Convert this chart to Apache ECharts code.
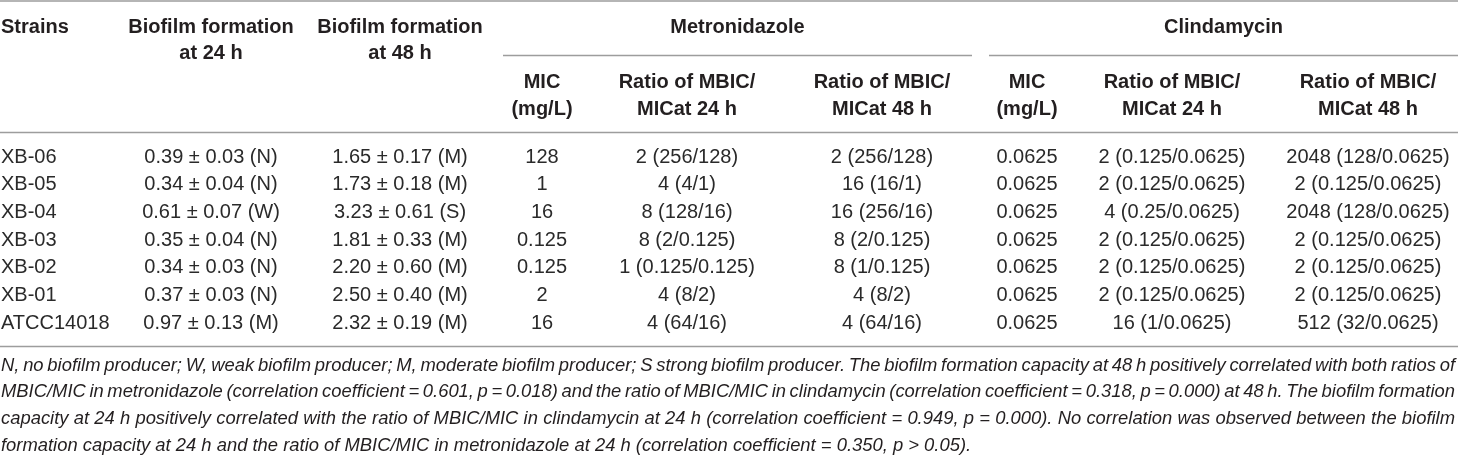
<!DOCTYPE html>
<html>
<head>
<meta charset="utf-8">
<script src="https://cdn.jsdelivr.net/npm/echarts@6/dist/echarts.min.js"></script>
<style>
html,body{margin:0;padding:0;background:#ffffff;}
#chart{width:1460px;height:455px;}
</style>
</head>
<body>
<div id="chart"></div>
<script>
// ---------- data ----------
const strains = ['XB-06', 'XB-05', 'XB-04', 'XB-03', 'XB-02', 'XB-01', 'ATCC14018'];
const biofilm24h = ['0.39 ± 0.03 (N)', '0.34 ± 0.04 (N)', '0.61 ± 0.07 (W)', '0.35 ± 0.04 (N)', '0.34 ± 0.03 (N)', '0.37 ± 0.03 (N)', '0.97 ± 0.13 (M)'];
const biofilm48h = ['1.65 ± 0.17 (M)', '1.73 ± 0.18 (M)', '3.23 ± 0.61 (S)', '1.81 ± 0.33 (M)', '2.20 ± 0.60 (M)', '2.50 ± 0.40 (M)', '2.32 ± 0.19 (M)'];
const metroMIC = ['128', '1', '16', '0.125', '0.125', '2', '16'];
const metroRatio24 = ['2 (256/128)', '4 (4/1)', '8 (128/16)', '8 (2/0.125)', '1 (0.125/0.125)', '4 (8/2)', '4 (64/16)'];
const metroRatio48 = ['2 (256/128)', '16 (16/1)', '16 (256/16)', '8 (2/0.125)', '8 (1/0.125)', '4 (8/2)', '4 (64/16)'];
const clindaMIC = ['0.0625', '0.0625', '0.0625', '0.0625', '0.0625', '0.0625', '0.0625'];
const clindaRatio24 = ['2 (0.125/0.0625)', '2 (0.125/0.0625)', '4 (0.25/0.0625)', '2 (0.125/0.0625)', '2 (0.125/0.0625)', '2 (0.125/0.0625)', '16 (1/0.0625)'];
const clindaRatio48 = ['2048 (128/0.0625)', '2 (0.125/0.0625)', '2048 (128/0.0625)', '2 (0.125/0.0625)', '2 (0.125/0.0625)', '2 (0.125/0.0625)', '512 (32/0.0625)'];

const groupHeaders = ['Metronidazole', 'Clindamycin'];
const columnHeaders = [
  ['Strains'],
  ['Biofilm formation', 'at 24 h'],
  ['Biofilm formation', 'at 48 h'],
  ['MIC', '(mg/L)'],
  ['Ratio of MBIC/', 'MICat 24 h'],
  ['Ratio of MBIC/', 'MICat 48 h'],
  ['MIC', '(mg/L)'],
  ['Ratio of MBIC/', 'MICat 24 h'],
  ['Ratio of MBIC/', 'MICat 48 h']
];
const footnoteLines = [
  'N, no biofilm producer; W, weak biofilm producer; M, moderate biofilm producer; S strong biofilm producer. The biofilm formation capacity at 48 h positively correlated with both ratios of',
  'MBIC/MIC in metronidazole (correlation coefficient = 0.601, p = 0.018) and the ratio of MBIC/MIC in clindamycin (correlation coefficient = 0.318, p = 0.000) at 48 h. The biofilm formation',
  'capacity at 24 h positively correlated with the ratio of MBIC/MIC in clindamycin at 24 h (correlation coefficient = 0.949, p = 0.000). No correlation was observed between the biofilm',
  'formation capacity at 24 h and the ratio of MBIC/MIC in metronidazole at 24 h (correlation coefficient = 0.350, p > 0.05).'
];

// ---------- layout (positions & styles) ----------
const W = 1460;
const FAMILY = '"Liberation Sans", Arial, Helvetica, sans-serif';
const TEXT_COLOR = '#231f20';
const RULE_COLOR = '#9d9d9d';
const colX = [1, 211, 400, 542, 687, 882, 1027, 1172, 1368];
const colAlign = ['left', 'center', 'center', 'center', 'center', 'center', 'center', 'center', 'center'];
const tableRight = 1458;
const groupSpans = [[503, 972], [989, 1458]];
const headerTopY = [27, 53.5];
const headerSubY = [82, 109.5];
const rule = { top: 1, group: 55.5, header: 132.5, bottom: 346.5 };
const footTop = 365.5, footLH = 26.8, footLeft = 1, footRight = 1455;

const columns = [strains, biofilm24h, biofilm48h, metroMIC, metroRatio24, metroRatio48, clindaMIC, clindaRatio24, clindaRatio48];

const cells = [];
strains.forEach((s, r) => {
  columns.forEach((col, c) => {
    cells.push({ value: [c, r], text: col[r] });
  });
});

const graphics = [];
function hline(x1, x2, y) {
  graphics.push({ type: 'line', silent: true, shape: { x1: x1, y1: y, x2: x2, y2: y }, style: { stroke: RULE_COLOR, lineWidth: 1.5 } });
}
function txt(x, y, text, font, align) {
  graphics.push({ type: 'text', silent: true, x: x, y: y, style: { text: text, font: font, fill: TEXT_COLOR, textAlign: align, textVerticalAlign: 'middle' } });
}
hline(0, tableRight, rule.top);
groupSpans.forEach(sp => hline(sp[0], sp[1], rule.group));
hline(0, tableRight, rule.header);
hline(0, tableRight, rule.bottom);

const boldFont = 'bold 20px ' + FAMILY;
groupHeaders.forEach((g, i) => {
  txt((groupSpans[i][0] + groupSpans[i][1]) / 2, headerTopY[0], g, boldFont, 'center');
});
columnHeaders.forEach((lines, c) => {
  const ys = c < 3 ? headerTopY : headerSubY;
  lines.forEach((ln, k) => txt(colX[c], ys[k], ln, boldFont, colAlign[c]));
});

// justified italic footnote (word-by-word placement)
const footFont = 'italic 18.4px ' + FAMILY;
const meas = document.createElement('canvas').getContext('2d');
meas.font = footFont;
footnoteLines.forEach((line, i) => {
  const y = footTop + i * footLH;
  const words = line.split(' ');
  const last = i === footnoteLines.length - 1;
  const widths = words.map(w => meas.measureText(w).width);
  const total = widths.reduce((a, b) => a + b, 0);
  const space = meas.measureText(' ').width;
  const gap = last ? space : (footRight - footLeft - total) / (words.length - 1);
  let x = footLeft;
  words.forEach((w, k) => {
    txt(x, y, w, footFont, 'left');
    x += widths[k] + gap;
  });
});

const chart = echarts.init(document.getElementById('chart'), null, { renderer: 'canvas' });
chart.setOption({
  animation: false,
  backgroundColor: '#ffffff',
  grid: { left: 0, right: 0, top: 143.2, height: 194, containLabel: false },
  xAxis: { type: 'value', min: 0, max: W, show: false },
  yAxis: { type: 'category', data: strains, inverse: true, show: false },
  graphic: graphics,
  series: [{
    type: 'custom',
    silent: true,
    data: cells,
    renderItem: function (params, api) {
      const c = api.value(0), r = api.value(1);
      const p = api.coord([colX[c], r]);
      return {
        type: 'text',
        x: p[0], y: p[1],
        style: {
          text: cells[params.dataIndex].text,
          font: '20px ' + FAMILY,
          fill: '#2a2a2a',
          textAlign: colAlign[c],
          textVerticalAlign: 'middle'
        }
      };
    }
  }]
});
</script>
</body>
</html>
